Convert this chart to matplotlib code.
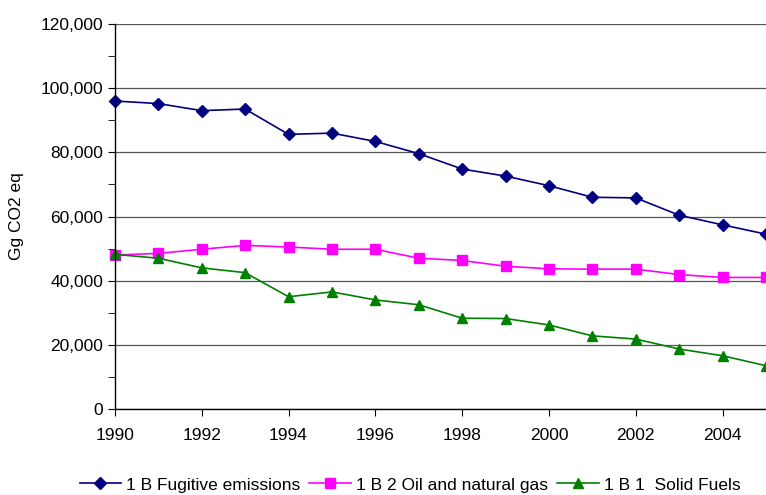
import numpy as np
import matplotlib.pyplot as plt
from matplotlib.ticker import FuncFormatter, MultipleLocator

plt.rcParams['font.family'] = ['Liberation Sans', 'DejaVu Sans']

years = np.arange(1990, 2006)

# Gg CO2 eq
fugitive = [96000, 95200, 93000, 93500, 85600, 86000, 83400, 79600,
            74800, 72600, 69600, 66000, 65800, 60400, 57400, 54500]
oil_gas = [48000, 48500, 49800, 51000, 50500, 49800, 49800, 47000,
           46300, 44500, 43700, 43600, 43600, 41900, 41000, 41000]
solid = [48200, 47000, 44000, 42500, 35000, 36500, 34000, 32500,
         28300, 28200, 26200, 22800, 21800, 18700, 16600, 13500]

fig = plt.figure(figsize=(7.66, 4.95), dpi=100)
ax = fig.add_axes([0.150, 0.1737, 0.850, 0.7778])

# gridlines
ax.yaxis.grid(True, color='#555555', linewidth=0.9)
ax.set_axisbelow(True)

ax.plot(years, fugitive, color='#000080', marker='D', markersize=6,
        linewidth=1.2, label='1 B Fugitive emissions', clip_on=False)
ax.plot(years, oil_gas, color='#FF00FF', marker='s', markersize=6.5,
        linewidth=1.2, label='1 B 2 Oil and natural gas', clip_on=False)
ax.plot(years, solid, color='#008000', marker='^', markersize=7.5,
        linewidth=1.2, label='1 B 1  Solid Fuels', clip_on=False)

ax.set_xlim(1990, 2005)
ax.set_ylim(0, 120000)
ax.xaxis.set_major_locator(MultipleLocator(2))
ax.yaxis.set_major_locator(MultipleLocator(20000))
ax.yaxis.set_minor_locator(MultipleLocator(10000))
ax.yaxis.set_major_formatter(FuncFormatter(lambda v, p: f'{int(v):,}'))

for s in ['top', 'right']:
    ax.spines[s].set_visible(False)
for s in ['left', 'bottom']:
    ax.spines[s].set_color('black')
    ax.spines[s].set_linewidth(1.0)

ax.tick_params(axis='both', which='both', direction='out', labelsize=12.5,
               colors='black')
ax.tick_params(axis='both', which='major', length=5)
ax.tick_params(axis='y', which='minor', length=5)
ax.tick_params(axis='x', pad=9)

ax.set_ylabel('Gg CO2 eq', fontsize=12.5, labelpad=12)

fig.legend(loc='center', bbox_to_anchor=(410 / 766, 1 - 485 / 495), ncol=3,
           frameon=False, fontsize=12.5, handlelength=2.4, columnspacing=0.5,
           handletextpad=0.3, borderaxespad=0, borderpad=0)

fig.savefig('out.png', dpi=100)
